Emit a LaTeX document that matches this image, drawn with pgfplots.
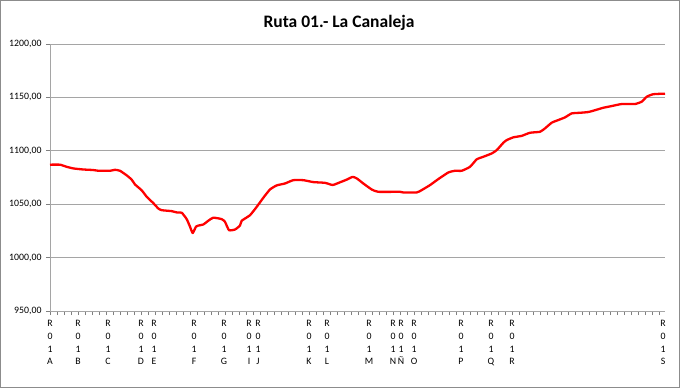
\documentclass[border=0pt]{standalone}
\usepackage{fontspec}
\setmainfont{Carlito}
\usepackage{pgfplots}
\pgfplotsset{compat=1.18}
\definecolor{axgray}{RGB}{165,165,165}
\begin{document}
\begin{tikzpicture}[x=1pt,y=1pt]
\useasboundingbox (0,0) rectangle (680,388);
\draw[color=black!45, line width=0.8pt] (0.5,0.5) rectangle (679.5,387.5);
\node[font=\fontsize{17.5}{20}\selectfont\bfseries] at (339,365) {Ruta 01.- La Canaleja};
\begin{axis}[
  at={(50pt,77pt)}, anchor=south west,
  scale only axis, width=615pt, height=267pt,
  xmin=50, xmax=665, ymin=950, ymax=1200,
  ytick={950,1000,...,1200},
  ymajorgrids,
  grid style={color=axgray, line width=0.8pt},
  axis x line*=bottom, axis y line*=left,
  axis line style={color=axgray, line width=0.8pt, -},
  tick align=outside,
  major tick length=4pt,
  tick style={color=black!50, line width=0.7pt},
  xtick={50,57,...,665},
  xticklabels={},
  extra x ticks={50,78,108,141,154,194,224,249,258,309,327,369,393,401,414,461,491,512,663},
  extra x tick labels={{R\\0\\1\\A},{R\\0\\1\\B},{R\\0\\1\\C},{R\\0\\1\\D},{R\\0\\1\\E},{R\\0\\1\\F},{R\\0\\1\\G},{R\\0\\1\\I},{R\\0\\1\\J},{R\\0\\1\\K},{R\\0\\1\\L},{R\\0\\1\\M},{R\\0\\1\\N},{R\\0\\1\\Ñ},{R\\0\\1\\O},{R\\0\\1\\P},{R\\0\\1\\Q},{R\\0\\1\\R},{R\\0\\1\\S}},
  extra x tick style={tick style={draw=none}, tick label style={align=center, font=\fontsize{9.8}{12.6}\selectfont, color=black, inner sep=0pt, yshift=-5.5pt}},
  yticklabel style={font=\fontsize{9.8}{11}\selectfont, color=black, xshift=-1pt},
  /pgf/number format/assume math mode=true,
  yticklabel={\pgfmathprintnumber[fixed, fixed zerofill, precision=2, use comma, 1000 sep={}]{\tick}},
]
\addplot[color=red, line width=2.3pt, line join=round, smooth, tension=0.3] coordinates {
(50,1087) (60,1087) (66.7,1085) (73.3,1083.5) (83.3,1082.5) (93.3,1082) (98.3,1081.3)
(110,1081.3) (115,1082.2) (120,1081.3) (126.7,1077) (131.7,1073) (135,1068.5) (141.7,1063)
(146.7,1057) (153.3,1051) (158.3,1046) (161.7,1044.4) (171.7,1043.5) (176.7,1042.3) (181.7,1042)
(186.7,1036) (190,1029) (192.7,1023) (196,1029) (198.3,1030) (203.3,1031) (208.3,1034.5)
(213.3,1037.4) (221.7,1036) (225,1033.5) (229,1025.7) (235,1026.3) (240,1030) (241.7,1034.5)
(250,1039.7) (256.7,1047.5) (263.3,1056) (270,1063.8) (276.7,1067.6) (285,1069.4) (293.3,1072.5)
(303.3,1072.5) (313.3,1070.7) (325,1070) (332.7,1068) (340,1070.5) (346.7,1073) (352.7,1075.6)
(357,1074) (363.3,1069.4) (371.7,1063.8) (378.3,1061.6) (400,1061.6) (403.3,1061) (416.7,1061)
(421.7,1063.2) (430,1067.9) (438.3,1073.5) (448.3,1079.7) (455,1081.3) (461.7,1081.3) (470,1085)
(476.7,1092) (483.3,1094.4) (491.7,1097.5) (496.7,1100.6) (503.3,1107.5) (506.7,1110) (513.3,1112.6)
(521.7,1114) (530,1116.9) (540,1117.8) (545,1121) (551.7,1126.3) (558.3,1128.8) (565,1131.3)
(571.7,1135) (580,1135.6) (588.3,1136.3) (595,1138) (603.3,1140.3) (611.7,1141.9) (621.7,1143.8)
(635,1143.8) (641.7,1146) (646.7,1150.6) (653.3,1153) (665,1153.5)
};
\end{axis}
\end{tikzpicture}
\end{document}
